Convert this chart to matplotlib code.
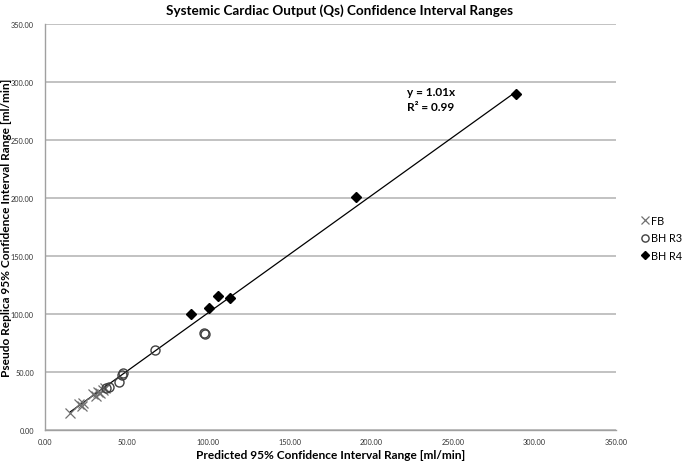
import matplotlib
matplotlib.use('Agg')
import matplotlib.pyplot as plt
from matplotlib.ticker import FormatStrFormatter

plt.rcParams['font.family'] = ['Lato', 'DejaVu Sans']

# FB series (crosses)
fb_x = [15.5, 21.0, 22.5, 23.5, 29.5, 31.0, 32.5, 34.0, 35.5, 36.5]
fb_y = [15.0, 22.0, 21.0, 23.5, 31.0, 29.5, 32.5, 31.5, 34.5, 36.0]

# BH R3 series (open circles)
r3_x = [37.5, 39.0, 45.5, 47.0, 48.0, 67.5, 97.7, 98.3]
r3_y = [36.5, 37.0, 41.0, 47.5, 49.0, 69.0, 84.0, 83.0]

# BH R4 series (filled diamonds)
r4_x = [89.3, 100.7, 106.3, 113.4, 190.7, 289.0]
r4_y = [100.0, 105.0, 115.8, 113.5, 200.5, 289.5]

slope = 1.01
r2 = 0.99

fig = plt.figure(figsize=(6.85, 4.64), dpi=100)
ax = fig.add_axes([45 / 685, 1 - 431 / 464, 571 / 685, 406 / 464])

all_x = fb_x + r3_x + r4_x
x0, x1 = min(all_x), max(all_x)
ax.plot([x0, x1], [slope * x0, slope * x1], color='black', lw=0.9, zorder=2)

ax.plot(fb_x, fb_y, ls='none', marker='x', ms=7, mew=0.9, color='#707070',
        label='FB', zorder=3)
ax.plot(r3_x, r3_y, ls='none', marker='o', ms=6.5, mew=1.0, mfc='none',
        mec='#404040', label='BH R3', zorder=3)
ax.plot(r4_x, r4_y, ls='none', marker='D', ms=5.5, color='black',
        label='BH R4', zorder=3)

ax.set_xlim(0, 350)
ax.set_ylim(0, 350)
ax.set_xticks(range(0, 351, 50))
ax.set_yticks(range(0, 351, 50))
ax.xaxis.set_major_formatter(FormatStrFormatter('%.2f'))
ax.yaxis.set_major_formatter(FormatStrFormatter('%.2f'))
ax.tick_params(length=0, labelsize=5.3, labelcolor='#333333')
ax.tick_params(axis='x', pad=6)
ax.tick_params(axis='y', pad=8)

ax.yaxis.grid(True, color='#bdbdbd', lw=1.3)
ax.set_axisbelow(True)
for s in ['top', 'right']:
    ax.spines[s].set_visible(False)
for s in ['left', 'bottom']:
    ax.spines[s].set_color('#a0a0a0')
    ax.spines[s].set_linewidth(1.0)

ax.set_xlabel('Predicted 95% Confidence Interval Range [ml/min]',
              fontsize=8.6, fontweight='bold', va='center')
ax.set_ylabel('Pseudo Replica 95% Confidence Interval Range [ml/min]',
              fontsize=8.6, fontweight='bold', va='center')
ax.xaxis.set_label_coords(0.5, -(456 - 431) / 406)
ax.yaxis.set_label_coords(-(45 - 7) / 571, 0.5)

fig.text(340 / 685, 1 - 11 / 464, 'Systemic Cardiac Output (Qs) Confidence Interval Ranges',
         ha='center', va='center', fontsize=9.7, fontweight='bold')

ax.text(222, 291.4, 'y = %.2fx' % slope, fontsize=8.5, fontweight='bold',
        ha='left', va='center')
ax.text(222, 279.3, 'R² = %.2f' % r2, fontsize=8.5, fontweight='bold',
        ha='left', va='center')

fig.legend(loc='center left', bbox_to_anchor=(636 / 685, 1 - 239 / 464),
           frameon=False, fontsize=7.8, handlelength=0.6, handletextpad=0.3,
           labelspacing=0.6, borderpad=0, markerscale=0.8)

fig.savefig('out.png', dpi=100)
